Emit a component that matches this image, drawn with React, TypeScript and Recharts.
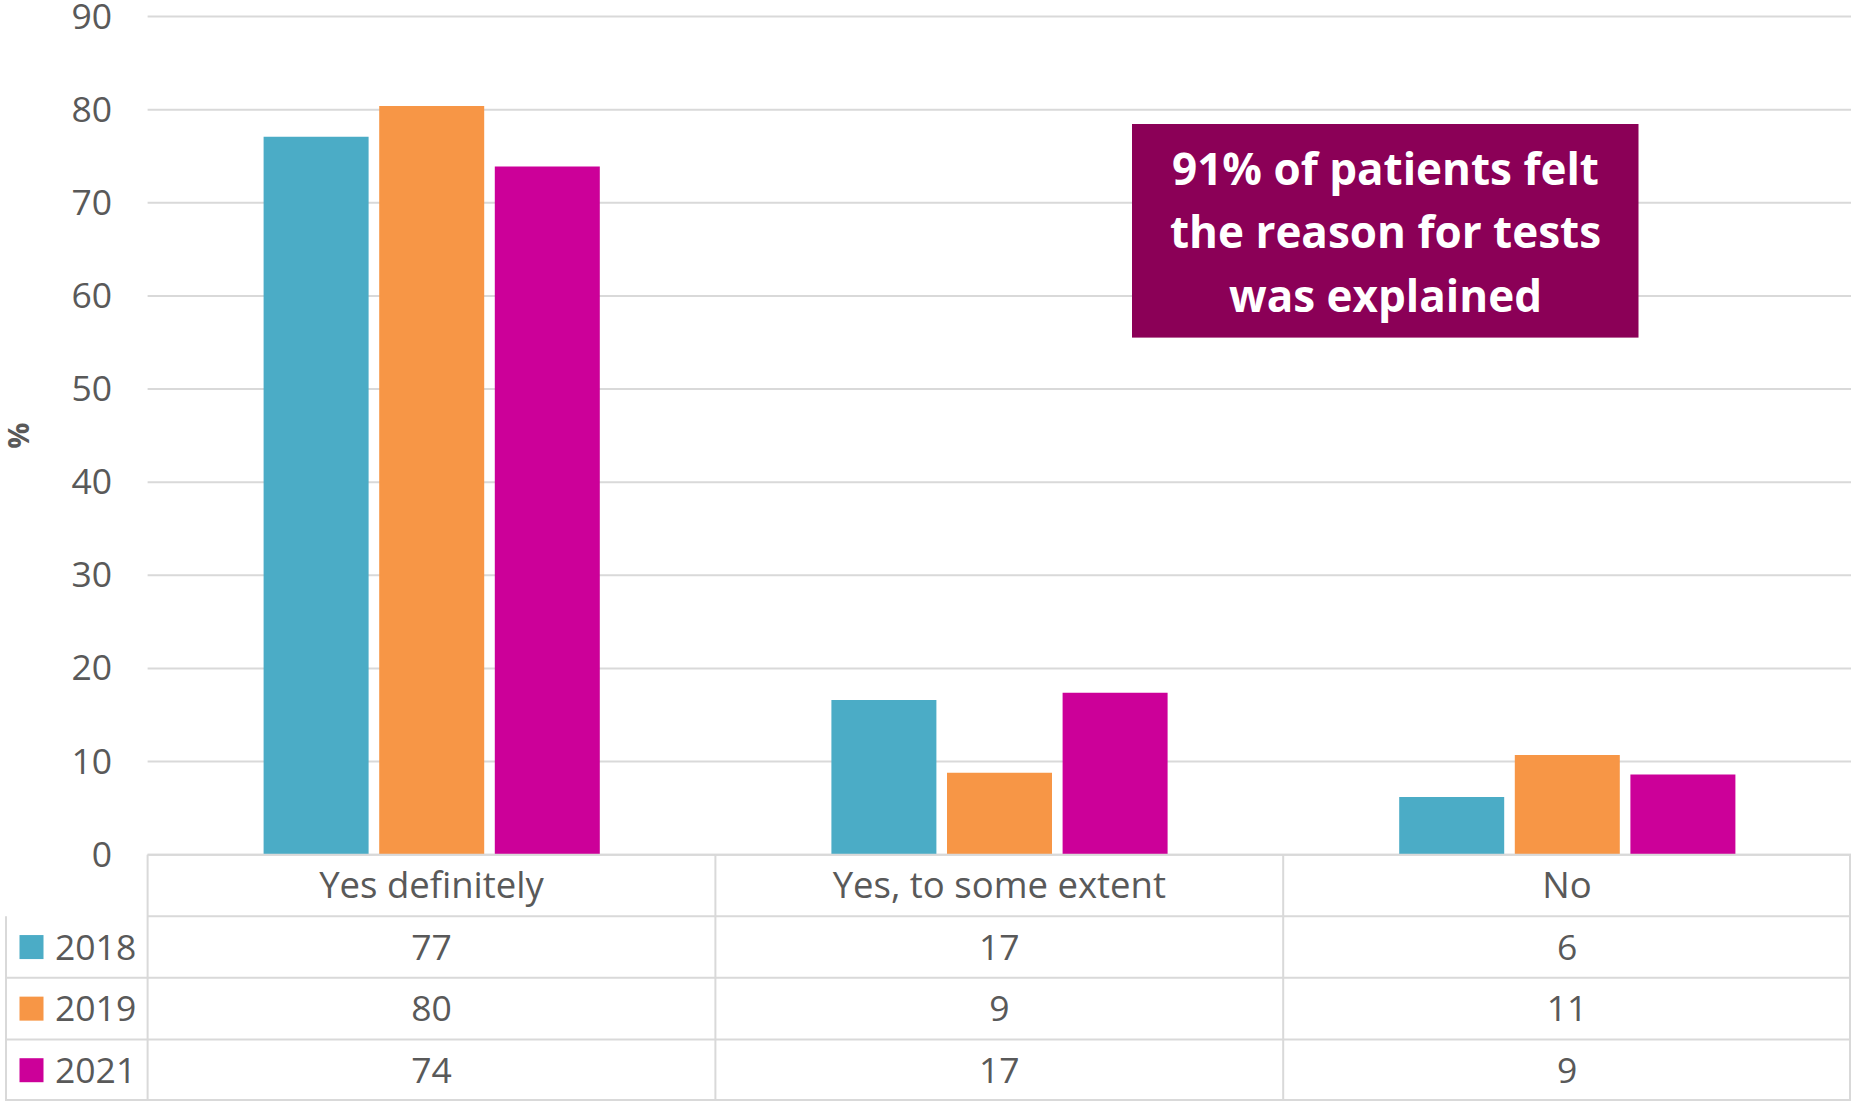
import React from 'react';
import { BarChart, Bar, XAxis, YAxis, CartesianGrid } from 'recharts';

const categories = ['Yes definitely', 'Yes, to some extent', 'No'];
const years = ['2018', '2019', '2021'];
const values2018 = [77.1, 16.6, 6.2];
const values2019 = [80.4, 8.8, 10.7];
const values2021 = [73.9, 17.4, 8.6];
const colors = ['#4BACC6', '#F79646', '#CC0099'];
const yTicks = [0, 10, 20, 30, 40, 50, 60, 70, 80, 90];
const annotationLines = ['91% of patients felt', 'the reason for tests', 'was explained'];

const seriesValues = [values2018, values2019, values2021];
const data = categories.map((c, i) => ({
  name: c,
  y2018: values2018[i],
  y2019: values2019[i],
  y2021: values2021[i],
}));

const W = 1851;
const H = 1101;
const PLOT_LEFT = 147.6;
const PLOT_TOP = 16.5;
const PLOT_BOTTOM = 854.7;
const ROW_H = (H - PLOT_BOTTOM) / 4;
const XAXIS_H = ROW_H;
const FONT = '"Open Sans", sans-serif';
const TEXT = '#595959';
const LINE = '#D9D9D9';
const FS = 35.5;

const catW = (W - PLOT_LEFT) / categories.length;
const catCenter = (i: number) => PLOT_LEFT + catW * (i + 0.5);

const CatTick = (props: any) => {
  const { x, payload } = props;
  return (
    <text x={x} y={PLOT_BOTTOM + ROW_H / 2 + 12.5} textAnchor="middle" fill={TEXT} fontFamily={FONT} fontSize={36.5}>
      {payload.value}
    </text>
  );
};

const ValTick = (props: any) => {
  const { y, payload } = props;
  return (
    <text x={112} y={y + 12} textAnchor="end" fill={TEXT} fontFamily={FONT} fontSize={FS}>
      {payload.value}
    </text>
  );
};

export default function App() {
  const rowCenter = (r: number) => PLOT_BOTTOM + ROW_H * (r + 1.5);
  return (
    <div style={{ position: 'absolute', left: 0, top: 0, width: W, height: H, background: '#fff', overflow: 'hidden' }}>
      <BarChart
        width={W}
        height={H}
        data={data}
        margin={{ top: PLOT_TOP, right: 0, left: 0, bottom: H - PLOT_BOTTOM - XAXIS_H }}
        barSize={105}
        barGap={10.6}
      >
        <CartesianGrid vertical={false} stroke={LINE} strokeWidth={2} />
        <XAxis
          dataKey="name"
          height={XAXIS_H}
          tickLine={false}
          axisLine={{ stroke: LINE, strokeWidth: 2 }}
          tick={<CatTick />}
          interval={0}
        />
        <YAxis
          width={PLOT_LEFT}
          domain={[0, 90]}
          ticks={yTicks}
          axisLine={false}
          tickLine={false}
          tick={<ValTick />}
          interval={0}
        />
        <Bar dataKey="y2018" fill={colors[0]} isAnimationActive={false} />
        <Bar dataKey="y2019" fill={colors[1]} isAnimationActive={false} />
        <Bar dataKey="y2021" fill={colors[2]} isAnimationActive={false} />
      </BarChart>

      <svg width={W} height={H} style={{ position: 'absolute', left: 0, top: 0, pointerEvents: 'none' }}>
        <text
          x={0}
          y={0}
          transform={`translate(29, ${(PLOT_TOP + PLOT_BOTTOM) / 2}) rotate(-90)`}
          textAnchor="middle"
          fill={TEXT}
          fontFamily={FONT}
          fontWeight="bold"
          fontSize={29}
        >
          %
        </text>
        {[0, 1, 2, 3].map((r) => (
          <line
            key={'h' + r}
            x1={r === 0 ? PLOT_LEFT : 6}
            x2={W}
            y1={PLOT_BOTTOM + ROW_H * (r + 1) - (r === 3 ? 1 : 0)}
            y2={PLOT_BOTTOM + ROW_H * (r + 1) - (r === 3 ? 1 : 0)}
            stroke={LINE}
            strokeWidth={2}
          />
        ))}
        <line x1={6} x2={6} y1={PLOT_BOTTOM + ROW_H} y2={H} stroke={LINE} strokeWidth={2} />
        {[0, 1, 2, 3].map((c) => (
          <line
            key={'v' + c}
            x1={Math.min(PLOT_LEFT + catW * c, W - 1)}
            x2={Math.min(PLOT_LEFT + catW * c, W - 1)}
            y1={PLOT_BOTTOM}
            y2={H}
            stroke={LINE}
            strokeWidth={2}
          />
        ))}
        {years.map((yr, r) => (
          <g key={yr}>
            <rect x={19.5} y={rowCenter(r) - 12} width={24} height={24} fill={colors[r]} />
            <text x={55} y={rowCenter(r) + 12.5} fill={TEXT} fontFamily={FONT} fontSize={FS}>
              {yr}
            </text>
            {seriesValues[r].map((v, i) => (
              <text
                key={i}
                x={catCenter(i)}
                y={rowCenter(r) + 12.5}
                textAnchor="middle"
                fill={TEXT}
                fontFamily={FONT}
                fontSize={FS}
              >
                {Math.round(v)}
              </text>
            ))}
          </g>
        ))}
        <rect x={1132} y={124} width={506.5} height={213.6} fill="#8B0057" />
        {annotationLines.map((t, i) => (
          <text
            key={i}
            x={1385.5}
            y={184.5 + i * 63.7}
            textAnchor="middle"
            fill="#FFFFFF"
            fontFamily={FONT}
            fontWeight="bold"
            fontSize={44}
          >
            {t}
          </text>
        ))}
      </svg>
    </div>
  );
}
